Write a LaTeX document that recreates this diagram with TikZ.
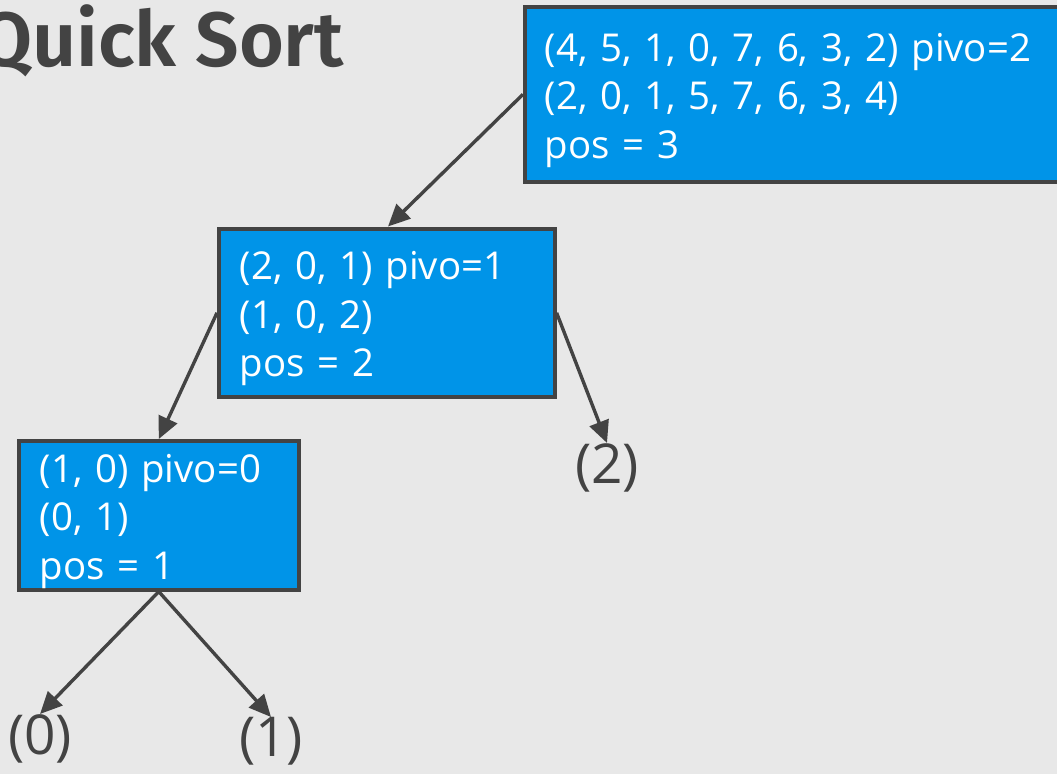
\documentclass[tikz,border=0pt]{standalone}
\usepackage{fontspec}
\setmainfont{Open Sans}
\newfontfamily\titlefont{Fira Sans}[UprightFont=* SemiBold]
\usetikzlibrary{arrows.meta}
\definecolor{bgcol}{RGB}{232,232,232}
\definecolor{ink}{RGB}{67,67,67}
\definecolor{boxblue}{RGB}{0,148,232}
% strut that lowers the text block a little inside each box
\newcommand{\topgap}{\rule{0pt}{40pt}}
\tikzset{
  stepbox/.style={draw=ink, line width=3.6pt, fill=boxblue, text=white,
    align=left, anchor=north west, inner xsep=0pt, inner ysep=0pt,
    font=\fontsize{38.4}{48.5}\selectfont},
  leaf/.style={text=ink, inner sep=0pt, anchor=north,
    font=\fontsize{55}{60}\selectfont},
  link/.style={draw=ink, line width=3.4pt, -{Triangle[length=22pt,width=20pt]}},
}
\begin{document}
\begin{tikzpicture}[x=1pt,y=-1pt]
  \fill[bgcol] (0,0) rectangle (1057,774);
  \useasboundingbox (0,0) rectangle (1057,774);

  % title
  \node[text=ink, anchor=base east, inner sep=0pt,
        font=\titlefont\fontsize{77}{84}\selectfont] (title) at (344,66) {Quick Sort};

  % partition steps
  \node[stepbox, minimum width=540pt, minimum height=175pt, text width=500pt,
        inner xsep=20pt] (b1) at (523,5)
    {\topgap(4, 5, 1, 0, 7, 6, 3, 2) pivo=2\\(2, 0, 1, 5, 7, 6, 3, 4)\\pos = 3};
  \node[stepbox, minimum width=336pt, minimum height=168pt, text width=294pt,
        inner xsep=21pt] (b2) at (217,227)
    {\topgap(2, 0, 1) pivo=1\\(1, 0, 2)\\pos = 2};
  \node[stepbox, minimum width=280pt, minimum height=149pt, text width=238pt,
        inner xsep=21pt] (b3) at (17,439)
    {\topgap(1, 0) pivo=0\\(0, 1)\\pos = 1};

  % single-element leaves
  \node[leaf] (l2) at (607,443) {(2)};
  \node[leaf] (l0) at (40,714) {(0)};
  \node[leaf] (l1) at (271,717) {(1)};

  % recursion edges
  \draw[link] (b1.west) -- (388,226.5);
  \draw[link] (b2.west) -- (b3.north);
  \draw[link] (b2.east) -- (l2.north);
  \draw[link] (b3.south) -- (l0.north);
  \draw[link] (b3.south) -- (l1.north);
\end{tikzpicture}
\end{document}
